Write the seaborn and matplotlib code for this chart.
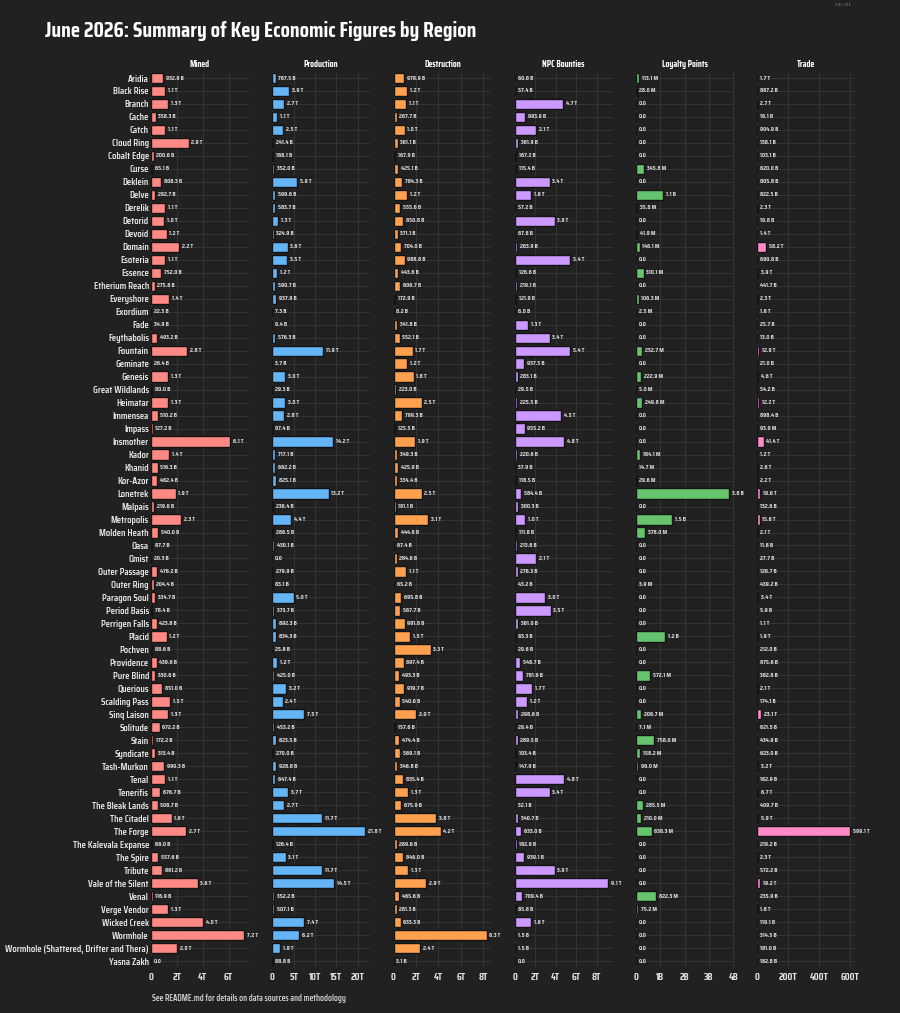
import matplotlib
matplotlib.use("Agg")
import matplotlib.pyplot as plt
from matplotlib.ticker import MaxNLocator, FuncFormatter
import seaborn as sns
import pandas as pd

# Regions (top to bottom)
regions = ["Aridia", "Black Rise", "Branch", "Cache", "Catch", "Cloud Ring", "Cobalt Edge", "Curse",
           "Deklein", "Delve", "Derelik", "Detorid", "Devoid", "Domain", "Esoteria", "Essence",
           "Etherium Reach", "Everyshore", "Exordium", "Fade", "Feythabolis", "Fountain", "Geminate",
           "Genesis", "Great Wildlands", "Heimatar", "Immensea", "Impass", "Insmother", "Kador",
           "Khanid", "Kor-Azor", "Lonetrek", "Malpais", "Metropolis", "Molden Heath", "Oasa", "Omist",
           "Outer Passage", "Outer Ring", "Paragon Soul", "Period Basis", "Perrigen Falls", "Placid",
           "Pochven", "Providence", "Pure Blind", "Querious", "Scalding Pass", "Sinq Laison",
           "Solitude", "Stain", "Syndicate", "Tash-Murkon", "Tenal", "Tenerifis", "The Bleak Lands",
           "The Citadel", "The Forge", "The Kalevala Expanse", "The Spire", "Tribute",
           "Vale of the Silent", "Venal", "Verge Vendor", "Wicked Creek", "Wormhole",
           "Wormhole (Shattered, Drifter and Thera)", "Yasna Zakh"]

# ISK values in billions
mined = [932.9, 1100, 1300, 358.3, 1100, 2900, 200.6, 65.1, 808.3, 292.7, 1100, 1000, 1200, 2200,
         1100, 752.0, 275.8, 1400, 22.5, 34.9, 493.2, 2800, 26.4, 1300, 80.0, 1300, 510.2, 127.2,
         6100, 1400, 516.3, 462.4, 1900, 219.6, 2300, 540.0, 87.7, 20.3, 476.2, 204.4, 334.7, 78.4,
         423.8, 1200, 88.6, 439.6, 330.6, 851.0, 1500, 1300, 672.2, 172.2, 313.4, 990.3, 1100,
         676.7, 508.7, 1600, 2700, 68.0, 557.6, 861.2, 3600, 116.9, 1300, 4000, 7200, 2000, 0.0]

production = [787.5, 3900, 2700, 1100, 2500, 241.4, 168.1, 352.0, 5900, 599.6, 583.7, 1300, 324.9,
              3600, 3500, 1200, 590.7, 937.9, 7.3, 9.4, 576.3, 11900, 3.7, 3000, 29.3, 3000, 2800,
              97.4, 14200, 717.1, 662.2, 825.1, 13200, 236.4, 4400, 286.5, 430.1, 0.0, 279.9, 83.1,
              5000, 373.7, 892.3, 834.3, 25.8, 1200, 425.0, 3200, 2400, 7500, 453.2, 823.5, 270.0,
              928.8, 647.4, 3700, 2700, 11700, 21800, 126.4, 3100, 11700, 14500, 352.2, 507.1,
              7400, 6200, 1800, 88.8]

destruction = [978.9, 1200, 1100, 267.7, 1000, 361.1, 167.9, 425.1, 784.3, 1200, 555.6, 850.8,
               371.1, 704.0, 988.8, 443.6, 606.7, 172.9, 8.2, 341.8, 552.1, 1700, 1200, 1800,
               223.0, 2500, 799.3, 125.5, 1900, 349.3, 425.9, 334.4, 2500, 191.1, 3100, 444.6,
               67.4, 284.6, 1100, 65.2, 695.8, 567.7, 981.8, 1500, 3300, 897.4, 493.3, 919.7,
               540.6, 2000, 157.6, 474.4, 569.1, 346.8, 835.4, 1300, 675.9, 3800, 4200, 269.6,
               846.0, 1300, 2900, 465.6, 281.3, 633.3, 8300, 2400, 3.1]

npc_bounties = [60.6, 57.4, 4700, 993.9, 2100, 361.9, 167.2, 115.4, 3400, 1600, 57.2, 3900, 67.8,
                263.9, 5400, 126.6, 219.1, 121.9, 6.0, 1300, 3400, 5400, 937.5, 283.1, 29.5, 225.5,
                4500, 955.2, 4800, 220.6, 37.9, 118.5, 584.4, 300.3, 1000, 111.8, 213.6, 2100,
                276.3, 43.2, 3000, 3500, 361.0, 83.3, 29.6, 548.7, 781.6, 1700, 1200, 298.6, 29.4,
                289.5, 103.4, 147.9, 4800, 3400, 32.1, 340.7, 633.0, 182.9, 939.1, 3900, 9100,
                709.4, 85.8, 1600, 1.5, 1.5, 0.0]

# loyalty points in millions
loyalty_points = [113.1, 28.0, 0, 0, 0, 0, 0, 345.8, 0, 1100, 35.8, 0, 41.9, 146.1, 0, 310.1, 0,
                  106.3, 2.5, 0, 0, 252.7, 0, 222.9, 5.0, 249.8, 0, 0, 0, 164.1, 14.7, 29.6, 3830,
                  0, 1500, 378.0, 0, 0, 0, 3.9, 0, 0, 0, 1200, 0, 0, 572.1, 0, 0, 206.7, 7.1,
                  758.0, 158.2, 96.0, 0, 0, 285.5, 210.0, 638.3, 0, 0, 0, 0, 822.3, 75.2, 0, 0, 0, 0]

trade = [1700, 867.2, 2700, 16.1, 904.9, 138.1, 103.1, 620.0, 805.8, 822.5, 2300, 19.8, 1400,
         58200, 690.8, 3900, 441.7, 2300, 1600, 25.7, 13.0, 12900, 21.0, 4600, 54.2, 12200, 898.4,
         0.0939, 41400, 1200, 2600, 2200, 19600, 132.6, 15600, 2100, 11.8, 27.7, 126.7, 439.2,
         3400, 5.9, 1100, 1900, 212.0, 875.6, 382.8, 2100, 174.1, 23100, 621.5, 434.9, 623.0,
         3200, 162.9, 6700, 409.7, 5900, 599100, 219.2, 2300, 572.2, 19200, 235.9, 1800, 119.1,
         314.5, 181.0, 182.8]

df = pd.DataFrame({
    "Region": regions,
    "Mined": [v * 1e9 for v in mined],
    "Production": [v * 1e9 for v in production],
    "Destruction": [v * 1e9 for v in destruction],
    "NPC Bounties": [v * 1e9 for v in npc_bounties],
    "Loyalty Points": [v * 1e6 for v in loyalty_points],
    "Trade": [v * 1e9 for v in trade],
})

panels = ["Mined", "Production", "Destruction", "NPC Bounties", "Loyalty Points", "Trade"]
colors = ["#ff8a85", "#64b5f6", "#ffa04f", "#cc99ff", "#66c46e", "#ff8ac8"]

BG = "#212121"


def fmt_value(v):
    if v == 0:
        return "0.0"
    for div, suf in [(1e12, "T"), (1e9, "B"), (1e6, "M")]:
        if abs(v) >= div:
            return f"{v / div:.1f} {suf}"
    return f"{v:.1f}"


def fmt_tick(v, pos):
    if v == 0:
        return "0"
    for div, suf in [(1e12, "T"), (1e9, "B"), (1e6, "M")]:
        if abs(v) >= div:
            return f"{v / div:g}{suf}"
    return f"{v:g}"


sns.set_theme(style="darkgrid", rc={
    "figure.facecolor": BG,
    "axes.facecolor": BG,
    "axes.edgecolor": BG,
    "grid.color": "#343434",
    "grid.linewidth": 0.7,
    "text.color": "#e8e8e8",
    "xtick.color": "#e0e0e0",
    "ytick.color": "#e8e8e8",
})
plt.rcParams["font.family"] = ["Saira Semi Condensed", "Saira Condensed", "Barlow Condensed",
                               "Rajdhani", "Archivo Narrow", "DejaVu Sans"]

fig, axes = plt.subplots(1, 6, figsize=(9, 10.13), dpi=100, sharey=True)
fig.subplots_adjust(left=0.1678, right=0.95, top=0.9294, bottom=0.0449, wspace=0.24)
renderer = fig.canvas.get_renderer()


def fit_size(text, target_px, weight="normal"):
    # font size that makes `text` about target_px wide, whatever face was found
    t = fig.text(0, 0, text, fontsize=10, fontweight=weight)
    w = t.get_window_extent(renderer).width
    t.remove()
    return 10 * target_px / w


fs_title = fit_size("June 2026: Summary of Key Economic Figures by Region", 431, "bold")
fs_region = fit_size("Etherium Reach", 56, "semibold")
fs_value = fit_size("932.9 B", 18, "bold")
fs_panel = fit_size("Production", 35, "bold")
fs_tick = fit_size("20T", 13.7, "bold")
fs_foot = fit_size("See README.md for details on data sources and methodology", 195, "semibold")

for ax, col, c in zip(axes, panels, colors):
    sns.barplot(data=df, y="Region", x=col, ax=ax, color=c, orient="h", width=0.8,
                saturation=1, errorbar=None, edgecolor="#141414", linewidth=1)
    ax.bar_label(ax.containers[0], labels=[fmt_value(v) for v in df[col]],
                 padding=2, fontsize=fs_value, color="#d8d8d8", fontweight="bold")
    ax.set_title(col, fontsize=fs_panel, fontweight="bold", color="white", pad=3)
    ax.set_xlabel("")
    ax.set_ylabel("")
    ax.xaxis.set_major_locator(MaxNLocator(nbins=5, steps=[1, 2, 2.5, 5, 10]))
    ax.xaxis.set_major_formatter(FuncFormatter(fmt_tick))
    ax.tick_params(axis="x", length=0, labelsize=fs_tick, pad=4)
    ax.tick_params(axis="y", length=0, labelsize=fs_region, pad=1.5)
    for lab in ax.get_xticklabels():
        lab.set_fontweight("bold")
    for s in ax.spines.values():
        s.set_visible(False)
    ax.grid(True, axis="both")

for lab in axes[0].get_yticklabels():
    lab.set_fontweight("semibold")
for ax in axes[1:]:
    ax.tick_params(axis="y", labelleft=False)

fig.text(45 / 900, 1 - 31 / 1013, "June 2026: Summary of Key Economic Figures by Region",
         fontsize=fs_title, fontweight="bold", color="white", va="center", ha="left")
fig.text(152 / 900, 1 - 998 / 1013, "See README.md for details on data sources and methodology",
         fontsize=fs_foot, fontweight="semibold", color="#d0d0d0", va="center", ha="left")
fig.text(843 / 900, 1 - 5 / 1013, "O N L I N E", fontsize=3.2, color="#888888",
         va="center", ha="center")

fig.savefig("out.png", dpi=100, facecolor=BG)
